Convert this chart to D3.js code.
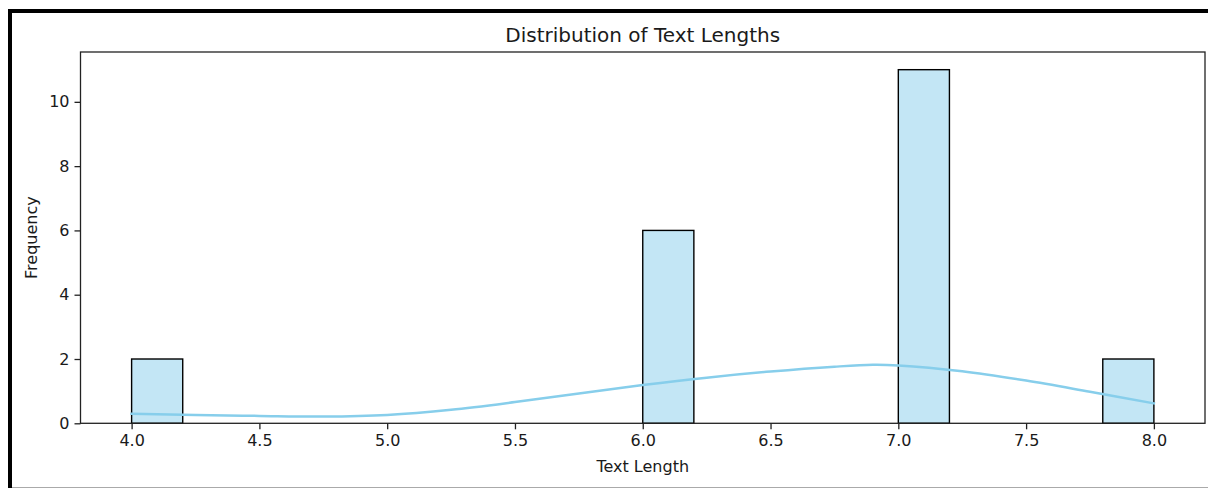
<!DOCTYPE html>
<html>
<head>
<meta charset="utf-8">
<script src="https://cdn.jsdelivr.net/npm/d3@7"></script>
<style>
  html, body { margin: 0; padding: 0; background: #fff; }
  svg { display: block; }
  text { font-family: "DejaVu Sans", sans-serif; fill: #1a1a1a; }
</style>
</head>
<body>
<svg id="chart" width="1208" height="488"></svg>
<script>
// ---- data ----
const binEdgesStart = [4.0, 4.2, 4.4, 4.6, 4.8, 5.0, 5.2, 5.4, 5.6, 5.8, 6.0, 6.2, 6.4, 6.6, 6.8, 7.0, 7.2, 7.4, 7.6, 7.8];
const binWidth = 0.2;
const counts = [2, 0, 0, 0, 0, 0, 0, 0, 0, 0, 6, 0, 0, 0, 0, 11, 0, 0, 0, 2];
const kdeX = [4.0, 4.25, 4.5, 4.75, 5.0, 5.25, 5.5, 5.75, 6.0, 6.25, 6.5, 6.75, 6.9, 7.0, 7.25, 7.5, 7.75, 8.0];
const kdeY = [0.30, 0.26, 0.23, 0.21, 0.26, 0.42, 0.66, 0.93, 1.19, 1.42, 1.61, 1.76, 1.82, 1.80, 1.62, 1.33, 0.98, 0.62];
const xTicks = [4.0, 4.5, 5.0, 5.5, 6.0, 6.5, 7.0, 7.5, 8.0];
const yTicks = [0, 2, 4, 6, 8, 10];
const titleText = "Distribution of Text Lengths";
const xLabel = "Text Length";
const yLabel = "Frequency";

// ---- layout ----
const svg = d3.select("#chart");
const W = 1208, H = 488;
const plot = { left: 80.5, right: 1205, top: 52, bottom: 423.3 };

// outer frame (screenshot border)
svg.append("rect").attr("x", 0).attr("y", 0).attr("width", W).attr("height", H).attr("fill", "#fff");
svg.append("line").attr("x1", 10).attr("x2", 10).attr("y1", 9).attr("y2", H).attr("stroke", "#000").attr("stroke-width", 4);
svg.append("line").attr("x1", 8).attr("x2", W).attr("y1", 11).attr("y2", 11).attr("stroke", "#000").attr("stroke-width", 4);
svg.append("line").attr("x1", 12).attr("x2", W).attr("y1", 487.5).attr("y2", 487.5).attr("stroke", "#aaa").attr("stroke-width", 1);

const x = d3.scaleLinear().domain([3.8, 8.2]).range([plot.left, plot.right]);
const y = d3.scaleLinear().domain([0, 11.55]).range([plot.bottom, plot.top]);

// bars
const bins = binEdgesStart.map((s, i) => ({ x0: s, x1: s + binWidth, c: counts[i] })).filter(d => d.c > 0);
svg.append("g").selectAll("rect").data(bins).join("rect")
  .attr("x", d => x(d.x0))
  .attr("y", d => y(d.c))
  .attr("width", d => x(d.x1) - x(d.x0))
  .attr("height", d => y(0) - y(d.c))
  .attr("fill", "#87CEEB").attr("fill-opacity", 0.5)
  .attr("stroke", "#000").attr("stroke-width", 1.4);

// kde line
const line = d3.line().x((d, i) => x(kdeX[i])).y(d => y(d)).curve(d3.curveCatmullRom.alpha(0.5));
svg.append("path").datum(kdeY).attr("d", line)
  .attr("fill", "none").attr("stroke", "#87CEEB").attr("stroke-width", 2.5).attr("stroke-linecap", "square");

// axes
const xAxis = d3.axisBottom(x).tickValues(xTicks).tickFormat(d3.format(".1f")).tickSize(6).tickPadding(5);
const yAxis = d3.axisLeft(y).tickValues(yTicks).tickFormat(d3.format("d")).tickSize(6).tickPadding(5);
const gx = svg.append("g").attr("transform", `translate(0,${plot.bottom})`).call(xAxis);
const gy = svg.append("g").attr("transform", `translate(${plot.left},0)`).call(yAxis);
[gx, gy].forEach(g => {
  g.select(".domain").remove();
  g.selectAll(".tick line").attr("stroke", "#222").attr("stroke-width", 1.3);
  g.selectAll(".tick text").attr("font-size", 16).attr("font-family", "DejaVu Sans").attr("fill", "#1a1a1a");
});

// spines
svg.append("rect").attr("x", plot.left).attr("y", plot.top)
  .attr("width", plot.right - plot.left).attr("height", plot.bottom - plot.top)
  .attr("fill", "none").attr("stroke", "#222").attr("stroke-width", 1.3);

// title and labels
svg.append("text").attr("x", (plot.left + plot.right) / 2).attr("y", 42)
  .attr("text-anchor", "middle").attr("font-size", 20).text(titleText);
svg.append("text").attr("x", (plot.left + plot.right) / 2).attr("y", 472)
  .attr("text-anchor", "middle").attr("font-size", 16).text(xLabel);
svg.append("text").attr("transform", `translate(37,${(plot.top + plot.bottom) / 2}) rotate(-90)`)
  .attr("text-anchor", "middle").attr("font-size", 16).text(yLabel);
</script>
</body>
</html>
